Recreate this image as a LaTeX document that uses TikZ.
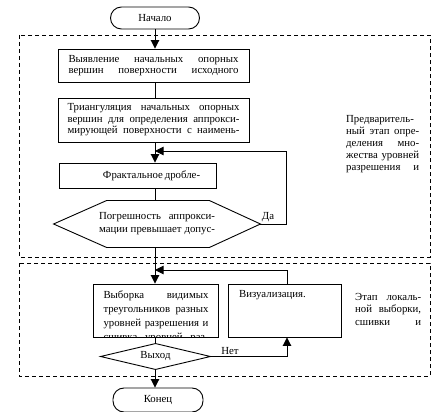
\documentclass[tikz,border=0pt]{standalone}
\usepackage{fontspec}
\setmainfont{Liberation Serif}
\usetikzlibrary{arrows.meta}

% one justified line of a fixed width
\newcommand{\jl}[2]{\makebox[#1][s]{#2}}

\begin{document}
\begin{tikzpicture}[x=1pt,y=-1pt,
  box/.style={draw,line width=0.9pt,inner sep=0pt,align=center,font=\fontsize{10.8}{11.5}\selectfont},
  term/.style={draw,line width=0.9pt,rounded corners=11pt,inner sep=0pt,font=\fontsize{10.8}{12}\selectfont},
  note/.style={inner sep=0pt,align=left,font=\fontsize{10.8}{12}\selectfont},
  stage/.style={line width=0.9pt,dash pattern=on 4pt off 3pt},
  link/.style={line width=0.9pt},
  flow/.style={line width=0.9pt,-{Triangle[length=8.5pt,width=8.5pt]}}]

\useasboundingbox (0,0) rectangle (440,412);
\coordinate (axis) at (155,0);

% ======================= the two stages (dashed frames) =================
\draw[stage] (19,35) rectangle (430,257);
\draw[stage] (19,263) rectangle (430,376);

% ======================= stage 1 =======================================
\node[term,minimum width=89pt,minimum height=22pt] (nachalo) at (155,18) {Начало};
\node[box,minimum width=191pt,minimum height=33pt] (vyyav) at (153.5,65.5)
  {\jl{170pt}{Выявление начальных опорных}\\\jl{170pt}{вершин поверхности исходного}};
\node[box,minimum width=191pt,minimum height=44pt] (triang) at (153.5,120)
  {\jl{172pt}{Триангуляция начальных опорных}\\
   \jl{172pt}{вершин для определения аппрокси-}\\
   \jl{172pt}{мирующей поверхности с наимень-}};
\node[box,minimum width=157pt,minimum height=25pt] (fract) at (137.5,175.5)
  {\hspace*{27pt}\jl{96pt}{Фрактальное дробле-}};
% hexagon: text node, outline drawn from its anchors
\node[box,draw=none,minimum width=206pt,minimum height=46pt,font=\fontsize{10.8}{13}\selectfont] (pogr) at (157,224)
  {\jl{116pt}{Погрешность аппрокси-}\\\jl{116pt}{мации превышает допус-}};
\draw[link] (pogr.west) -- ([xshift=53pt]pogr.north west) -- ([xshift=-51pt]pogr.north east)
  -- (pogr.east) -- ([xshift=-51pt]pogr.south east) -- ([xshift=53pt]pogr.south west) -- cycle;
\node[note] (da) at (268,217.5) {Да};
\node[note,anchor=north west] (predv) at (346,115)
  {\jl{73pt}{Предваритель-}\\\jl{73pt}{ный этап опре-}\\\jl{73pt}{деления мно-}\\
   \jl{73pt}{жества уровней}\\\jl{73pt}{разрешения и}};

% ======================= stage 2 =======================================
\node[box,minimum width=125pt,minimum height=53pt] (vyborka) at (155.5,310.5) {};
\begin{scope}
  \clip (vyborka.north west) rectangle (vyborka.south east);
  \node[note,anchor=north,font=\fontsize{10.8}{14}\selectfont] (vyborkaText) at (156,290.5)
    {\jl{105pt}{Выборка видимых}\\\jl{105pt}{треугольников разных}\\
     \jl{105pt}{уровней разрешения и}\\\jl{105pt}{сшивка уровней раз-}};
\end{scope}
\node[box,minimum width=113pt,minimum height=53pt] (viz) at (284.5,310.5) {};
\node[note,anchor=west] (vizText) at (239,295) {Визуализация.};
\node[box,draw=none,minimum width=109pt,minimum height=25pt] (vyhod) at (155.5,356.5) {Выход};
\draw[link] (vyhod.west) -- (vyhod.north) -- (vyhod.east) -- (vyhod.south) -- cycle;
\node[note] (net) at (230,351) {Нет};
\node[note,anchor=north west,font=\fontsize{10.8}{12.5}\selectfont] (etap) at (355,293)
  {\jl{66pt}{Этап локаль-}\\\jl{66pt}{ной выборки,}\\\jl{66pt}{сшивки и}};
\node[term,minimum width=90pt,minimum height=24pt] (konec) at (158,400) {Конец};

% ======================= connectors ====================================
\coordinate (daTurn) at (286,151);
\coordinate (vizTurn) at (287,270);
\draw[flow] (nachalo.south) -- (axis |- vyyav.north);
\draw[link] (axis |- vyyav.south) -- (axis |- triang.north);
\draw[flow] (axis |- triang.south) -- (axis |- fract.north);
\draw[link] (axis |- fract.south) -- (axis |- pogr.north);
\draw[flow] (pogr.east) -| (daTurn) -- (axis |- daTurn);
\draw[flow] (axis |- pogr.south) -- (axis |- vyborka.north);
\draw[flow] (vizTurn |- viz.north) -- (vizTurn) -- (axis |- vizTurn);
\draw[link] (axis |- vyborka.south) -- (axis |- vyhod.north);
\draw[flow] (vyhod.east) -| (vizTurn |- viz.south);
\draw[flow] (axis |- vyhod.south) -- (axis |- konec.north);

\end{tikzpicture}
\end{document}
